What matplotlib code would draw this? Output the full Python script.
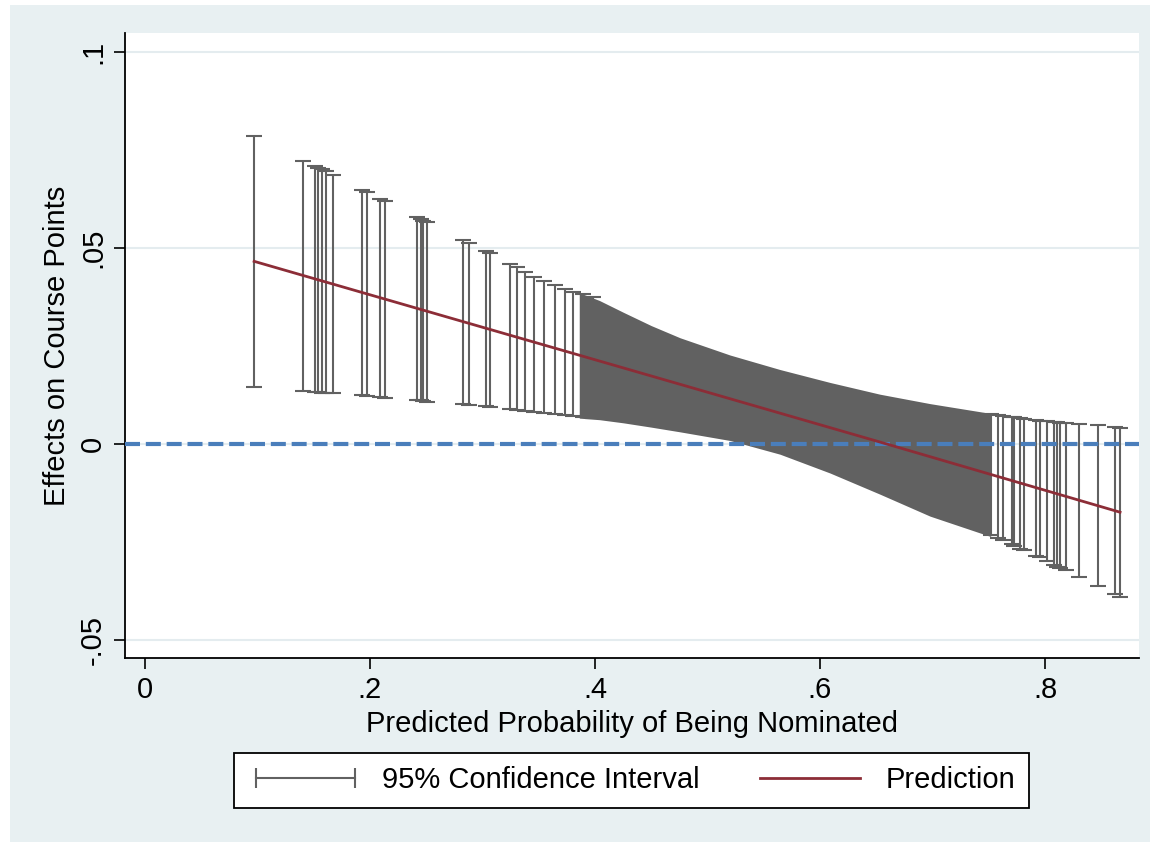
import numpy as np
import matplotlib.pyplot as plt
from matplotlib.lines import Line2D
from matplotlib.patches import Rectangle

# individual confidence interval bars (x, upper, lower)
ci_x = [0.097, 0.1407, 0.151, 0.154, 0.157, 0.161, 0.1674, 0.1926, 0.197,
        0.2089, 0.2133, 0.2415, 0.245, 0.2475, 0.2504, 0.283, 0.288, 0.303,
        0.3067, 0.3244, 0.331, 0.3378, 0.346, 0.355, 0.3644, 0.3733, 0.3807,
        0.389, 0.398,
        0.7517, 0.758, 0.763, 0.7704, 0.7724, 0.7778, 0.7816, 0.792, 0.7956,
        0.802, 0.808, 0.811, 0.8133, 0.8184, 0.8302, 0.8474, 0.8622, 0.8667]
ci_hi = [0.0786, 0.0723, 0.0709, 0.0705, 0.0702, 0.0697, 0.0685, 0.0649, 0.0642,
         0.0625, 0.0619, 0.0578, 0.0574, 0.0570, 0.0566, 0.0520, 0.0512, 0.0493,
         0.0488, 0.0460, 0.0452, 0.0440, 0.0427, 0.0417, 0.0406, 0.0395, 0.0389,
         0.0383, 0.0374,
         0.0076, 0.0073, 0.0071, 0.0070, 0.0069, 0.0066, 0.0064, 0.0061, 0.0059,
         0.0058, 0.0056, 0.0055, 0.0054, 0.0053, 0.0051, 0.0048, 0.0043, 0.0041]
ci_lo = [0.0145, 0.0136, 0.0133, 0.0132, 0.0131, 0.0130, 0.0129, 0.0124, 0.0122,
         0.0120, 0.0118, 0.0112, 0.0111, 0.0110, 0.0108, 0.0103, 0.0100, 0.0097,
         0.0095, 0.0089, 0.0087, 0.0085, 0.0082, 0.0079, 0.0077, 0.0074, 0.0071,
         0.0068, 0.0066,
         -0.0232, -0.0241, -0.0245, -0.0255, -0.0259, -0.0267, -0.0270, -0.0286,
         -0.0289, -0.0299, -0.0309, -0.0313, -0.0317, -0.0321, -0.0339, -0.0362,
         -0.0383, -0.0390]

# dense part where the bars merge into a solid band
band_x = [0.386, 0.404, 0.4252, 0.45, 0.4756, 0.52, 0.5644, 0.6089, 0.6533,
          0.6978, 0.7517]
band_hi = [0.0386, 0.0366, 0.0336, 0.0302, 0.0271, 0.0227, 0.0190, 0.0157, 0.0127,
           0.0103, 0.0078]
band_lo = [0.0066, 0.0062, 0.0054, 0.0043, 0.0031, 0.0009, -0.0026, -0.0074, -0.0128,
           -0.0184, -0.0236]

# prediction line
pred_x = [0.097, 0.3867, 0.6533, 0.8667]
pred_y = [0.0466, 0.0226, 0.0005, -0.0174]

xticks = [0, 0.2, 0.4, 0.6, 0.8]
xtick_labels = ['0', '.2', '.4', '.6', '.8']
yticks = [-0.05, 0, 0.05, 0.1]
ytick_labels = ['-.05', '0', '.05', '.1']

gray = '#616161'
red = '#8c2d37'
blue = '#4a7ebb'
bg = '#e8f0f2'

plt.rcParams['font.family'] = ['Liberation Sans', 'DejaVu Sans']

fig = plt.figure(figsize=(11.5, 8.42), dpi=100, facecolor=bg)
# thin white strips on the left and top edge
fig.add_artist(Rectangle((0, 0), 10 / 1150, 1, transform=fig.transFigure,
                         facecolor='white', edgecolor='none', zorder=-10))
fig.add_artist(Rectangle((0, 1 - 5 / 842), 1, 5 / 842, transform=fig.transFigure,
                         facecolor='white', edgecolor='none', zorder=-10))
ax = fig.add_axes([125 / 1150, 1 - 658 / 842, (1139 - 125) / 1150, (658 - 33) / 842])
ax.set_facecolor('white')

ax.set_xlim((125 - 145) / 1125, (1139 - 145) / 1125)
ax.set_ylim((444 - 658) / 3920, (444 - 33) / 3920)

for yt in yticks:
    ax.axhline(yt, color='#e4ecef', lw=1.5, zorder=1)

ax.errorbar(ci_x, [(h + l) / 2 for h, l in zip(ci_hi, ci_lo)],
            yerr=[[(h - l) / 2 for h, l in zip(ci_hi, ci_lo)],
                  [(h - l) / 2 for h, l in zip(ci_hi, ci_lo)]],
            fmt='none', ecolor=gray, elinewidth=1.5, capsize=5.5, capthick=1.5, zorder=2)
ax.fill_between(band_x, band_lo, band_hi, color=gray, lw=0, zorder=2)

ax.axhline(0, color=blue, lw=3, dashes=(3.6, 1.4), zorder=3)
ax.plot(pred_x, pred_y, color=red, lw=2.0, zorder=4)

for s in ['top', 'right']:
    ax.spines[s].set_visible(False)
ax.spines['left'].set_linewidth(1.3)
ax.spines['bottom'].set_linewidth(1.3)

ax.set_xticks(xticks)
ax.set_xticklabels(xtick_labels, fontsize=21)
ax.set_yticks(yticks)
ax.set_yticklabels(ytick_labels, fontsize=21, rotation=90, va='center')
ax.tick_params(axis='both', length=8, width=1.2, pad=5)
ax.set_xlabel('Predicted Probability of Being Nominated', fontsize=21, labelpad=4)
ax.set_ylabel('Effects on Course Points', fontsize=21, labelpad=6)

ci_handle = Line2D([], [], color=gray, lw=1.5, marker='|', markersize=14, markeredgewidth=1.5)
pred_handle = Line2D([], [], color=red, lw=2.0)
leg = fig.legend([ci_handle, pred_handle], ['95% Confidence Interval', 'Prediction'],
                 loc='center', bbox_to_anchor=(631.5 / 1150, 1 - 780.5 / 842), ncol=2,
                 fontsize=21, numpoints=2, handlelength=4.0, handletextpad=0.6,
                 columnspacing=1.8, borderpad=0.45, fancybox=False, framealpha=1)
leg.get_frame().set_edgecolor('black')
leg.get_frame().set_linewidth(1.3)

plt.savefig('out.png', dpi=100, facecolor=fig.get_facecolor())
